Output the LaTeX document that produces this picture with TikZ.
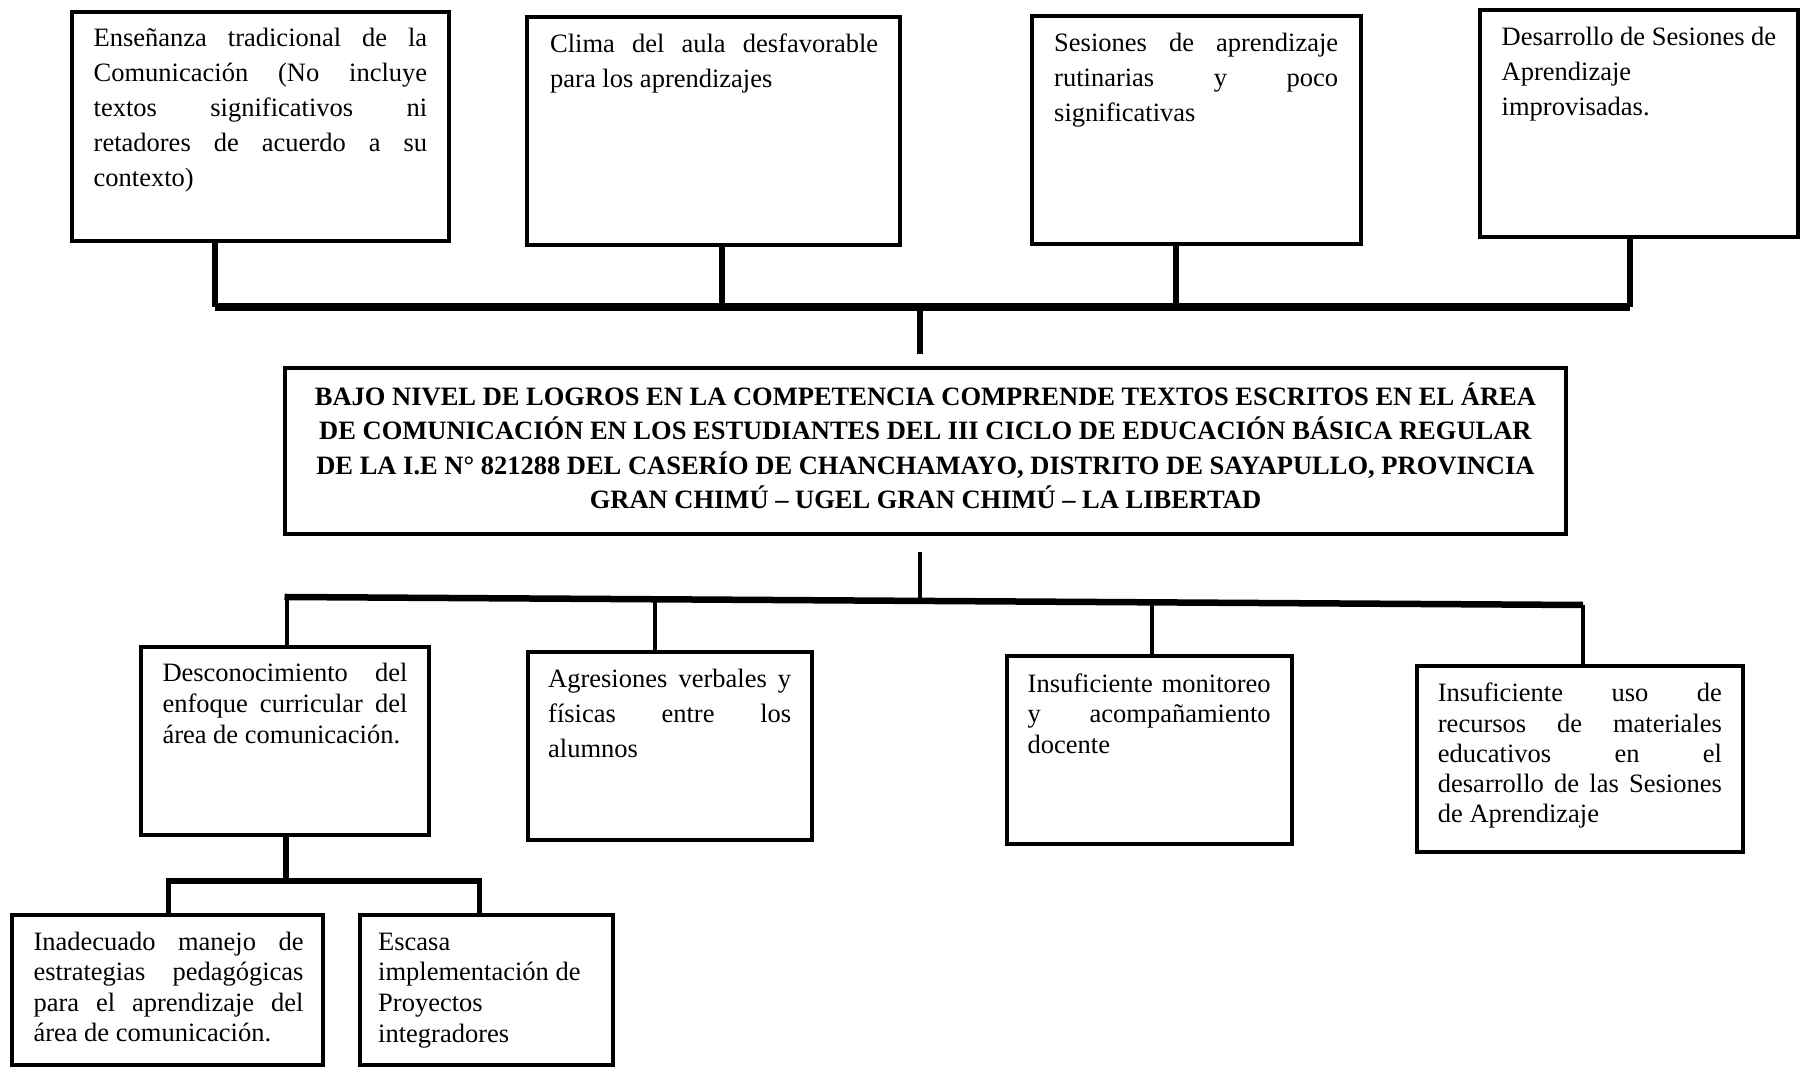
\documentclass[tikz,border=0pt]{standalone}
\usepackage{fontspec}
\setmainfont{Liberation Serif}
\tikzset{
  cbox/.style={draw, line width=4pt, rectangle, inner sep=0pt},
  txt/.style={inner sep=0pt, anchor=base west},
  tstem/.style={line width=6.5pt},
  tbar/.style={line width=8pt},
  bstem/.style={line width=4.8pt},
  bbar/.style={line width=6.5pt},
  sstem/.style={line width=5pt},
  sbar/.style={line width=5.6pt}
}
\newcommand\jl[1]{\makebox[\linewidth][s]{#1}\\}
\newcommand\mkbox[5]{\node[cbox, minimum width={(#4-#2)*1pt}, minimum height={(#5-#3)*1pt}] (#1) at ({(#2+#4)/2},{(#3+#5)/2}) {};}
\newcommand\sz[1]{\fontsize{26.5}{#1}\selectfont\spaceskip=0pt\xspaceskip=0pt\relax}
\begin{document}
\begin{tikzpicture}[x=1pt,y=-1pt]
\useasboundingbox (0,0) rectangle (1802,1067);
% boxes
\mkbox{b1}{72}{12}{449}{241}
\mkbox{b2}{527}{17}{900}{245}
\mkbox{b3}{1032}{16}{1361}{244}
\mkbox{b4}{1480}{10}{1798}{237}
\mkbox{b0}{285}{367.5}{1566}{533.5}
\mkbox{b5}{141}{647}{429}{835}
\mkbox{b6}{528}{652}{812}{840}
\mkbox{b7}{1007}{656}{1292}{844}
\mkbox{b8}{1417}{666}{1743}{852}
\mkbox{b9}{12}{915}{323}{1065}
\mkbox{b10}{359.5}{915}{612.5}{1065}
% texts
\node[txt, text width=333.5pt] (t1) at (93.5,47)
  {\sz{35}\jl{Enseñanza tradicional de la}\jl{Comunicación (No incluye}\jl{textos significativos ni}\jl{retadores de acuerdo a su}contexto)\par};
\node[txt, text width=328pt] (t2) at (550,52.5)
  {\sz{35.5}\jl{Clima del aula desfavorable}para los aprendizajes\par};
\node[txt, text width=284pt] (t3) at (1054,52)
  {\sz{35}\jl{Sesiones de aprendizaje}\jl{rutinarias y poco}significativas\par};
\node[txt, text width=285pt] (t4) at (1501.5,46)
  {\sz{35}Desarrollo de Sesiones de\\Aprendizaje\\improvisadas.\par};
\node[inner sep=0pt, anchor=base, text width=1270pt] (t0) at (925.5,405)
  {\sz{34.5}\bfseries\centering
   BAJO NIVEL DE LOGROS EN LA COMPETENCIA COMPRENDE TEXTOS ESCRITOS EN EL ÁREA\\
   DE COMUNICACIÓN EN LOS ESTUDIANTES DEL III CICLO DE EDUCACIÓN BÁSICA REGULAR\\
   DE LA I.E N° 821288 DEL CASERÍO DE CHANCHAMAYO, DISTRITO DE SAYAPULLO, PROVINCIA\\
   GRAN CHIMÚ – UGEL GRAN CHIMÚ – LA LIBERTAD\par};
\node[txt, text width=245pt] (t5) at (162.3,681.7)
  {\sz{31}\jl{Desconocimiento del}\jl{enfoque curricular del}área de comunicación.\par};
\node[txt, text width=243pt] (t6) at (548,687)
  {\sz{35}\jl{Agresiones verbales y}\jl{físicas entre los}alumnos\par};
\node[txt, text width=243pt] (t7) at (1027.5,692)
  {\sz{30.5}\jl{Insuficiente monitoreo}\jl{y acompañamiento}docente\par};
\node[txt, text width=284pt] (t8) at (1437.7,701.7)
  {\sz{30.3}\jl{Insuficiente uso de}\jl{recursos de materiales}\jl{educativos en el}\jl{desarrollo de las Sesiones}de Aprendizaje\par};
\node[txt, text width=270pt] (t9) at (33.3,950)
  {\sz{30.6}\jl{Inadecuado manejo de}\jl{estrategias pedagógicas}\jl{para el aprendizaje del}área de comunicación.\par};
\node[txt, text width=225pt] (t10) at (378,950)
  {\sz{30.8}Escasa\\implementación de\\Proyectos\\integradores\par};
% top connectors
\coordinate (j1) at (215,307.5);
\coordinate (j2) at (722,307.5);
\coordinate (j3) at (1176,307.5);
\coordinate (j4) at (1630,307.5);
\coordinate (jc) at (920,307.5);
\draw[tstem] (j1 |- b1.south) -- (j1);
\draw[tstem] (j2 |- b2.south) -- (j2);
\draw[tstem] (j3 |- b3.south) -- (j3);
\draw[tstem] (j4 |- b4.south) -- (j4);
\draw[tbar] (j1) -- (j4);
\draw[tstem, shorten >=11.5pt] (jc) -- (jc |- b0.north);
% bottom connectors
\coordinate (k5) at (287,597);
\coordinate (k6) at (655,599.3);
\coordinate (kc) at (920,601);
\coordinate (k7) at (1152,602.3);
\coordinate (k8) at (1583,605);
\draw[bstem, shorten <=16.5pt] (kc |- b0.south) -- (kc);
\draw[bbar, shorten <=-2.5pt] (k5) -- (k8);
\draw[bstem] (k5) -- (k5 |- b5.north);
\draw[bstem] (k6) -- (k6 |- b6.north);
\draw[bstem] (k7) -- (k7 |- b7.north);
\draw[bstem] (k8) -- (k8 |- b8.north);
% sub branch
\coordinate (s0) at (286,881);
\coordinate (s1) at (168,881);
\coordinate (s2) at (479,881);
\draw[bstem, line width=5.5pt] (s0 |- b5.south) -- (s0);
\draw[sbar, shorten <=-2.5pt, shorten >=-2.5pt] (s1) -- (s2);
\draw[sstem] (s1) -- (s1 |- b9.north);
\draw[sstem] (s2) -- (s2 |- b10.north);
\end{tikzpicture}
\end{document}
